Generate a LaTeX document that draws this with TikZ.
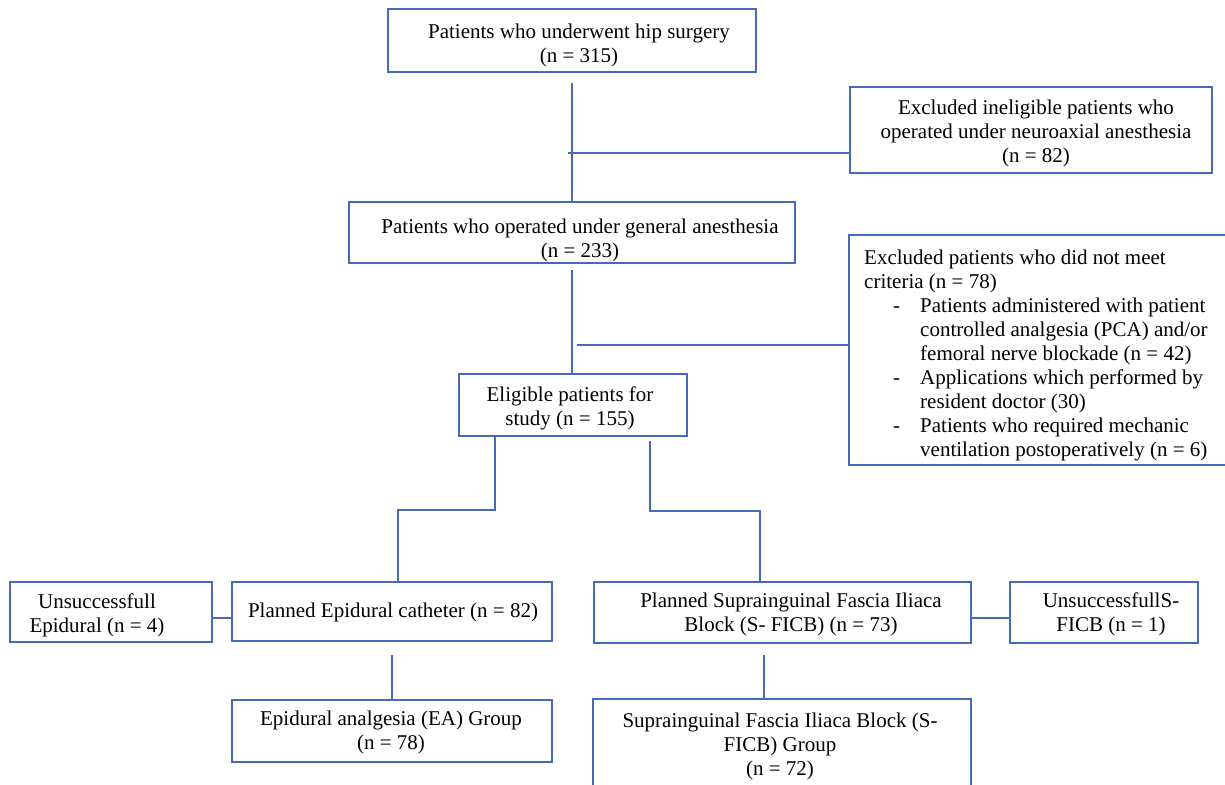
\documentclass[tikz,border=0pt]{standalone}
\usepackage{fontspec}
\setmainfont{Liberation Serif}
\definecolor{flowblue}{RGB}{70,105,190}
\newcommand{\exdash}{\makebox[56pt][l]{\hspace*{29pt}-}}
\newcommand{\excont}{\hspace*{56pt}}

\begin{document}
\begin{tikzpicture}[x=1pt, y=-1pt,
			box/.style={draw=flowblue, line width=1.6pt, shape=rectangle, inner sep=0pt},
			txt/.style={align=center, inner sep=0pt, font=\fontsize{21}{24}\selectfont},
			link/.style={draw=flowblue, line width=1.6pt}]
			\useasboundingbox (0, 0) rectangle (1225, 784);
			\clip (0, 0) rectangle (1225, 784);
			\fill[white] (0, 0) rectangle (1225, 784);
			% boxes with their texts
			\node[box, minimum width=368, minimum height=63] (top) at (572, 40.5){} node[txt] (topTxt) at (579, 45.5){Patients who underwent hip surgery\\(n = 315)};
			\node[box, minimum width=362, minimum height=86] (excl1) at (1031, 130){} node[txt] (excl1Txt) at (1036, 133){Excluded ineligible patients who\\operated under neuroaxial anesthesia\\(n = 82)};
			\node[box, minimum width=446, minimum height=61] (general) at (572, 232.5){} node[txt] (generalTxt) at (580, 240){Patients who operated under general anesthesia\\(n = 233)};
			\node[box, minimum width=391, minimum height=230] (excl2) at (1044.5, 350){} node[txt, align=left, anchor=north west] (excl2Txt) at (864, 250){Excluded patients who did not meet\\criteria (n = 78)\\\exdash Patients administered with patient\\\excont controlled analgesia (PCA) and/or\\\excont femoral nerve blockade (n = 42)\\\exdash Applications which performed by\\\excont resident doctor (30)\\\exdash Patients who required mechanic\\\excont ventilation postoperatively (n = 6)};
			\node[box, minimum width=228, minimum height=62] (eligible) at (573, 405){} node[txt] (eligibleTxt) at (570, 408){Eligible patients for\\study (n = 155)};
			\node[box, minimum width=202, minimum height=60] (unsEpi) at (111, 612){} node[txt] (unsEpiTxt) at (97, 615){Unsuccessfull\\Epidural (n = 4)};
			\node[box, minimum width=320, minimum height=59] (planEpi) at (392, 611.5){} node[txt] (planEpiTxt) at (393, 612){Planned Epidural catheter (n = 82)};
			\node[box, minimum width=377, minimum height=61] (planSF) at (782.5, 612.5){} node[txt] (planSFTxt) at (791, 614){Planned Suprainguinal Fascia Iliaca\\Block (S- FICB) (n = 73)};
			\node[box, minimum width=188, minimum height=61] (unsSF) at (1104, 612.5){} node[txt] (unsSFTxt) at (1111, 614){UnsuccessfullS-\\FICB (n = 1)};
			\node[box, minimum width=320, minimum height=62] (eaGroup) at (392, 731){} node[txt] (eaGroupTxt) at (391, 732.5){Epidural analgesia (EA) Group\\(n = 78)};
			\node[box, minimum width=378, minimum height=131] (sfGroup) at (782, 764.5){} node[txt] (sfGroupTxt) at (780, 746){Suprainguinal Fascia Iliaca Block (S-\\FICB) Group\\(n = 72)};
			% main line and exclusions
			\draw[link, shorten <=10pt] (top.south) -- (general.north);
			\draw[link, shorten <=6pt] (general.south) -- (general.south |- eligible.north);
			\coordinate (j1) at (568, 153);
			\draw[link] (j1) -- (j1 -| excl1.west);
			\coordinate (j2) at (577, 345);
			\draw[link] (j2) -- (j2 -| excl2.west);
			% split into the two groups
			\draw[link] ([xshift=37pt]eligible.south west) -- ++(0, 73) -| ([xshift=167pt]planEpi.north west);
			\draw[link, shorten <=4pt] ([xshift=192pt]eligible.south west) -- ++(0, 74) -| ([xshift=167pt]planSF.north west);
			\draw[link] ([yshift=-6pt]unsEpi.east) -- ([yshift=-6pt]unsEpi.east -| planEpi.west);
			\draw[link] ([yshift=-5.5pt]planSF.east) -- ([yshift=-5.5pt]planSF.east -| unsSF.west);
			\draw[link, shorten <=13pt] (planEpi.south) -- (eaGroup.north);
			\draw[link, shorten <=11pt] ([xshift=-18.5pt]planSF.south) -- ([xshift=-18.5pt]planSF.south |- sfGroup.north);
		\end{tikzpicture}
\end{document}
